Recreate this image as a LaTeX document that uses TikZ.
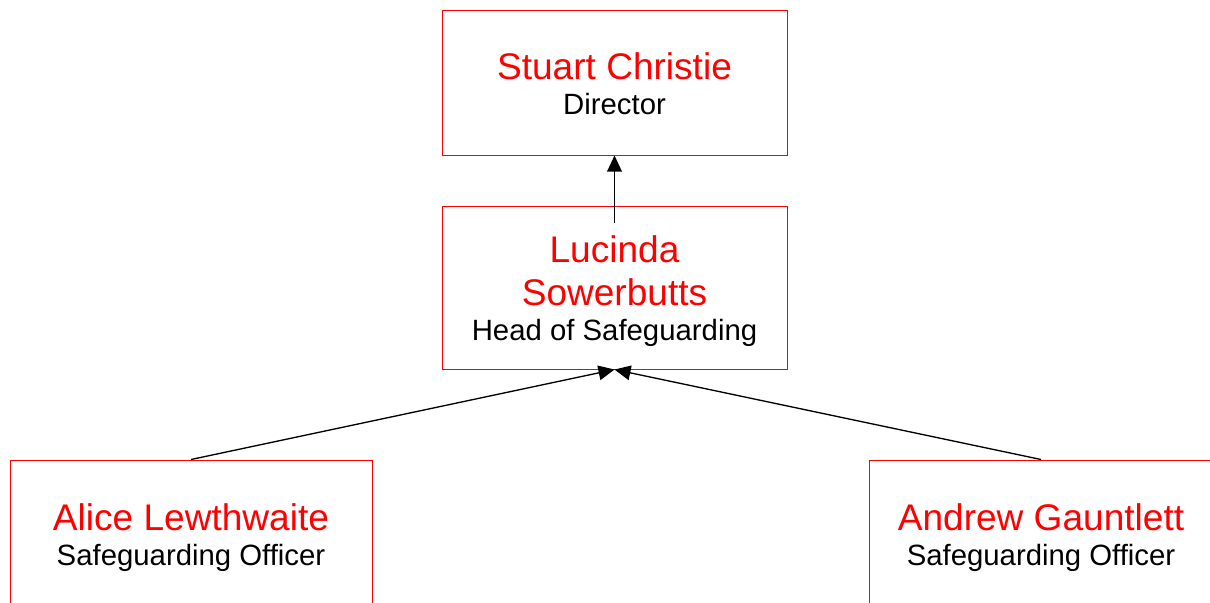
\documentclass[tikz,border=0pt]{standalone}
\usepackage{fontspec}
\setmainfont{Liberation Sans}
\usepackage{tikz}
\usetikzlibrary{arrows.meta, positioning}

\newcommand{\staffname}[1]{{\color{red}\fontsize{27.8}{32}\selectfont #1}}

\begin{document}
\begin{tikzpicture}[x=0.75pt, y=-0.75pt,
    person/.style={draw=red, line width=0.75pt, rectangle, align=center, inner sep=0pt,
        font=\fontsize{22}{26.25}\selectfont, minimum width=258.75pt, minimum height=108.75pt},
    conn/.style={-{Triangle[width=11pt, length=12pt]}, line width=1pt, black}]
    \useasboundingbox (0,0) rectangle (1210,603);

    \node[person] (stuart) at (614.5,82.5) {\staffname{\rule{0pt}{22pt}Stuart Christie}\\Director};
    \node[person, minimum height=122.25pt] (lucinda) at (614.5,287.5) {\staffname{\rule{0pt}{26pt}Lucinda}\\[6pt]\staffname{Sowerbutts}\\Head of Safeguarding};
    \node[person, minimum width=271.5pt, minimum height=116.25pt] (alice) at (191,537.5) {\staffname{Alice Lewthwaite}\\Safeguarding Officer};
    \node[person, minimum width=258pt, minimum height=116.25pt] (andrew) at (1041,537.5) {\staffname{Andrew Gauntlett}\\Safeguarding Officer};

    \draw[conn, shorten <=-12.75pt] (lucinda.north) -- (stuart.south);
    \draw[conn] (alice.north) -- (lucinda.south);
    \draw[conn] (andrew.north) -- (lucinda.south);
\end{tikzpicture}
\end{document}
